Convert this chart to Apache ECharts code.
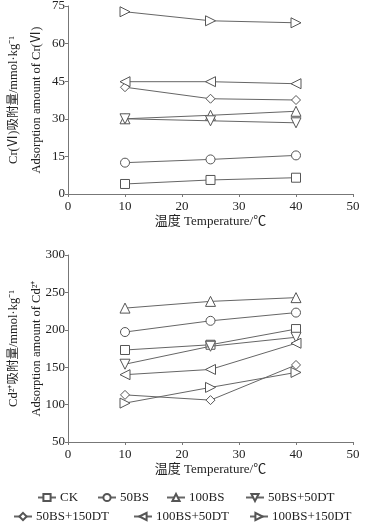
<!DOCTYPE html>
<html>
<head>
<meta charset="utf-8">
<script src="https://cdn.jsdelivr.net/npm/echarts@6/dist/echarts.min.js"></script>
<style>html,body{margin:0;padding:0;background:#fff}#c{width:370px;height:531px}</style>
</head>
<body>
<div id="c"></div>
<script>
var temps = [10, 25, 40];
var seriesNames = ['CK', '50BS', '100BS', '50BS+50DT', '50BS+150DT', '100BS+50DT', '100BS+150DT'];
var crCK = [4, 5.6, 6.5];
var cr50BS = [12.5, 13.8, 15.4];
var cr100BS = [30, 31.4, 33];
var cr50BS50DT = [30, 29.2, 28.4];
var cr50BS150DT = [42.6, 38, 37.5];
var cr100BS50DT = [44.8, 44.8, 44];
var cr100BS150DT = [72.7, 69.1, 68.3];
var cdCK = [173, 180, 201];
var cd50BS = [197, 212, 223];
var cd100BS = [229, 238, 243];
var cd50BS50DT = [154, 178, 190];
var cd50BS150DT = [113, 106, 153];
var cd100BS50DT = [140, 147, 182];
var cd100BS150DT = [102, 123, 143];
var xTicks = [0, 10, 20, 30, 40, 50];
var crTicks = [0, 15, 30, 45, 60, 75];
var cdTicks = [50, 100, 150, 200, 250, 300];

var crData = [crCK, cr50BS, cr100BS, cr50BS50DT, cr50BS150DT, cr100BS50DT, cr100BS150DT];
var cdData = [cdCK, cd50BS, cd100BS, cd50BS50DT, cd50BS150DT, cd100BS50DT, cd100BS150DT];
var symbols = ['rect', 'circle', 'triangle', 'triangle', 'diamond', 'triangle', 'triangle'];
var rotates = [0, 0, 0, 180, 0, 90, -90];

var FONT = '"Liberation Serif", "Noto Sans CJK SC", serif';
var lineColor = '#666';
var axisColor = '#777';

function pairs(vals) { return temps.map(function (t, i) { return [t, vals[i]]; }); }

var series = [];
[crData, cdData].forEach(function (set, gi) {
  set.forEach(function (vals, si) {
    series.push({
      name: seriesNames[si],
      type: 'line',
      xAxisIndex: gi, yAxisIndex: gi,
      data: pairs(vals),
      symbol: symbols[si],
      symbolRotate: rotates[si],
      symbolSize: symbols[si] === 'triangle' ? 10 : 9,
      showAllSymbol: true,
      lineStyle: { color: lineColor, width: 1 },
      itemStyle: { color: '#fff', borderColor: '#555', borderWidth: 1 },
      emphasis: { disabled: true },
      animation: false,
      z: 2 + si
    });
  });
});

function xAxis(gi) {
  return {
    gridIndex: gi, type: 'value', min: xTicks[0], max: xTicks[xTicks.length - 1], interval: xTicks[1] - xTicks[0],
    name: '温度 Temperature/℃', nameLocation: 'middle', nameGap: 21, nameMoveOverlap: false,
    nameTextStyle: { fontFamily: FONT, fontSize: 13, color: '#222' },
    axisLine: { lineStyle: { color: axisColor, width: 1 } },
    axisTick: { show: true, length: 3, lineStyle: { color: axisColor } },
    axisLabel: { fontFamily: FONT, fontSize: 13, color: '#222', margin: 6 },
    splitLine: { show: false }
  };
}
function yAxis(gi, min, max, interval, name) {
  return {
    gridIndex: gi, type: 'value', min: min, max: max, interval: interval,
    name: name, nameLocation: 'middle', nameGap: 20, nameRotate: 90, nameMoveOverlap: false,
    nameTextStyle: { fontFamily: FONT, fontSize: 12.5, color: '#222', lineHeight: 23 },
    axisLine: { show: true, lineStyle: { color: axisColor, width: 1 } },
    axisTick: { show: true, length: 3, lineStyle: { color: axisColor } },
    axisLabel: { fontFamily: FONT, fontSize: 13, color: '#222', margin: 3 },
    splitLine: { show: false }
  };
}

var legendPos = [
  { left: 37, top: 491 }, { left: 97, top: 491 }, { left: 166, top: 491 }, { left: 245, top: 491 },
  { left: 13, top: 510 }, { left: 133, top: 510 }, { left: 249, top: 510 }
];
var legends = seriesNames.map(function (n, i) {
  return {
    data: [n], left: legendPos[i].left, top: legendPos[i].top,
    itemWidth: 18, itemHeight: 9, itemGap: 4, padding: 0,
    textStyle: { fontFamily: FONT, fontSize: 13, color: '#222', padding: [0, 0, 0, -1] },
    selectedMode: false
  };
});

var chart = echarts.init(document.getElementById('c'), null, { renderer: 'canvas' });
chart.setOption({
  backgroundColor: '#fff',
  animation: false,
  grid: [
    { left: 68, top: 6, width: 285, height: 188, containLabel: false, outerBoundsMode: 'none' },
    { left: 68, top: 255, width: 285, height: 187, containLabel: false, outerBoundsMode: 'none' }
  ],
  xAxis: [xAxis(0), xAxis(1)],
  yAxis: [
    yAxis(0, crTicks[0], crTicks[crTicks.length - 1], crTicks[1] - crTicks[0], 'Cr(Ⅵ)吸附量/mmol·kg⁻¹\nAdsorption amount of Cr(Ⅵ)'),
    yAxis(1, cdTicks[0], cdTicks[cdTicks.length - 1], cdTicks[1] - cdTicks[0], 'Cd²⁺吸附量/mmol·kg⁻¹\nAdsorption amount of Cd²⁺')
  ],
  legend: legends,
  series: series
});
</script>
</body>
</html>
